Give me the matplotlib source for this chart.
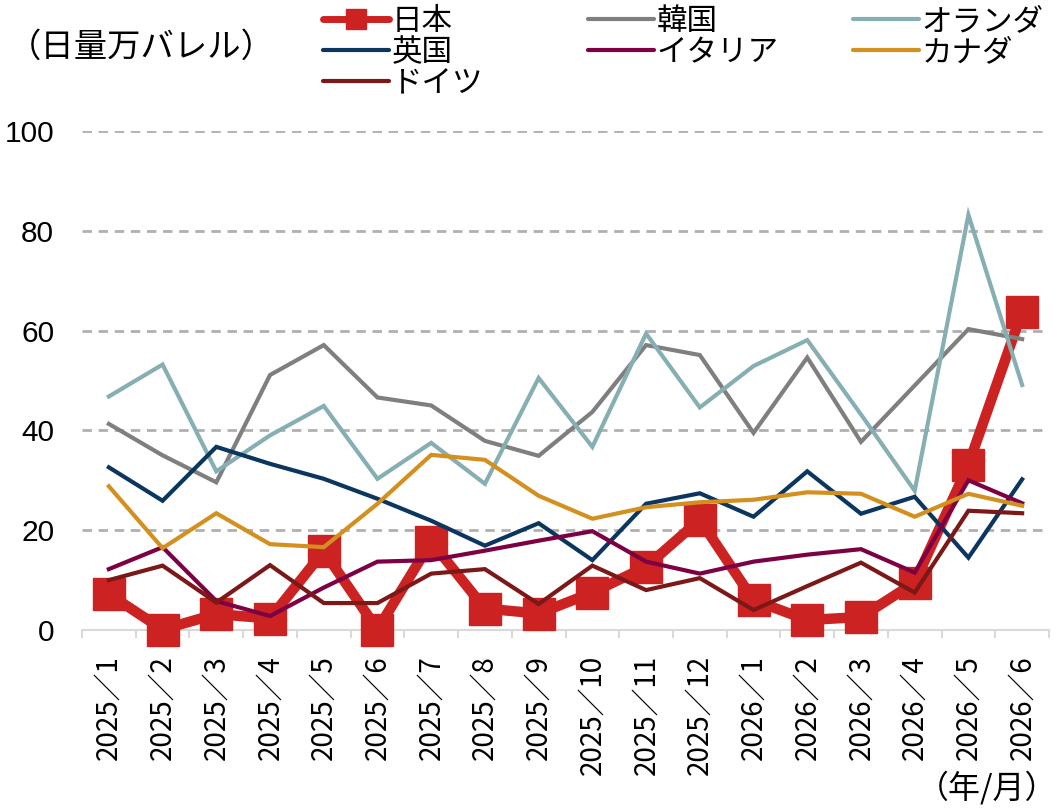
import matplotlib
matplotlib.use("Agg")
import matplotlib.pyplot as plt
from matplotlib.lines import Line2D
import numpy as np

months = ["2025／1", "2025／2", "2025／3", "2025／4", "2025／5", "2025／6",
          "2025／7", "2025／8", "2025／9", "2025／10", "2025／11", "2025／12",
          "2026／1", "2026／2", "2026／3", "2026／4", "2026／5", "2026／6"]

japan = [7.2, 0.1, 3.2, 2.3, 15.8, 0.1, 17.7, 4.3, 3.3, 7.5, 12.7, 22.1, 6.0, 2.0, 2.6, 9.5, 33.1, 63.8]
korea = [41.3, 35.0, 29.6, 51.1, 57.1, 46.6, 45.0, 37.9, 34.9, 43.7, 57.1, 55.1, 39.5, 54.6, 37.7, 49.0, 60.3, 58.3]
netherlands = [46.8, 53.2, 31.8, 39.0, 44.9, 30.3, 37.5, 29.3, 50.5, 36.7, 59.4, 44.6, 52.9, 58.1, 43.2, 27.9, 83.2, 49.1]
uk = [32.6, 25.9, 36.7, 33.3, 30.3, 26.3, 21.9, 16.9, 21.4, 14.0, 25.3, 27.4, 22.7, 31.8, 23.3, 26.7, 14.5, 30.2]
italy = [12.2, 16.6, 5.8, 2.8, 8.5, 13.7, 14.0, 15.9, 17.9, 19.8, 13.7, 11.3, 13.7, 15.1, 16.2, 11.5, 30.0, 25.4]
canada = [28.8, 16.4, 23.4, 17.2, 16.6, 25.3, 35.1, 34.1, 26.9, 22.3, 24.6, 25.6, 26.1, 27.6, 27.3, 22.7, 27.3, 24.9]
germany = [10.0, 12.9, 5.5, 13.0, 5.4, 5.4, 11.3, 12.2, 5.2, 12.9, 8.0, 10.4, 4.0, 8.8, 13.5, 7.5, 23.9, 23.4]

series_names = ["日本", "韓国", "オランダ", "英国", "イタリア", "カナダ", "ドイツ"]
series_values = [japan, korea, netherlands, uk, italy, canada, germany]
colors = ["#CC2222", "#7F7F7F", "#86AFB4", "#0B365F", "#7E0044", "#D4901E", "#7C1818"]

yticks = [0, 20, 40, 60, 80, 100]

JP = ["Noto Sans CJK JP", "DejaVu Sans"]
NUM = ["Liberation Sans", "Noto Sans CJK JP"]
XNUM = ["Liberation Sans Narrow", "Noto Sans CJK JP"]

fig = plt.figure(figsize=(10.59, 8.09), dpi=100)
ax = fig.add_axes([82 / 1059, 1 - 630 / 809, (1049 - 82) / 1059, (630 - 131) / 809])

x = np.arange(len(months))
for i, (name, vals, c) in enumerate(zip(series_names, series_values, colors)):
    if name == "日本":
        ax.plot(x, vals, color=c, lw=7.5, marker="s", markersize=23,
                solid_joinstyle="miter", clip_on=False, zorder=3 + i)
    else:
        ax.plot(x, vals, color=c, lw=3, solid_joinstyle="miter",
                clip_on=False, zorder=3 + i)

ax.set_xlim(-0.5, len(months) - 0.5)
ax.set_ylim(0, 100)
ax.set_yticks(yticks)
ax.set_yticklabels([str(v) for v in yticks], fontfamily=NUM, fontsize=21.5)
ax.yaxis.grid(True, color="#B0B0B0", lw=2, dashes=(3.4, 2.4))
ax.set_axisbelow(True)
ax.tick_params(axis="y", length=0, pad=20)

ax.set_xticks(x)
ax.set_xticklabels(months, rotation=90, fontfamily=XNUM, fontsize=20)
ax.set_xticks(np.arange(-0.5, len(months)), minor=True)
ax.tick_params(axis="x", which="major", length=0, pad=18)
ax.tick_params(axis="x", which="minor", length=6, width=1.5, color="#D9D9D9")

for s in ["left", "right", "top"]:
    ax.spines[s].set_visible(False)
ax.spines["bottom"].set_color("#D9D9D9")
ax.spines["bottom"].set_linewidth(1.5)
ax.spines["bottom"].set_zorder(2)

# legend in three columns (row-major order as in reference)
handles = {}
for name, c in zip(series_names, colors):
    if name == "日本":
        handles[name] = Line2D([], [], color=c, lw=5, marker="s", markersize=14,
                               solid_capstyle="round")
    else:
        handles[name] = Line2D([], [], color=c, lw=3, solid_capstyle="round")

columns = [(["日本", "英国", "ドイツ"], 323), (["韓国", "イタリア"], 588), (["オランダ", "カナダ"], 853)]
for names, xpx in columns:
    leg = fig.legend([handles[n] for n in names], names, loc="upper left",
                     bbox_to_anchor=(xpx / 1059, 1 - 6 / 809), frameon=False,
                     prop={"family": JP, "size": 22}, handlelength=2.15,
                     handletextpad=0.1, labelspacing=0.0, borderpad=0,
                     borderaxespad=0)

fig.text(8 / 1059, 1 - 47 / 809, "（日量万バレル）", fontfamily=JP, fontsize=24,
         ha="left", va="center")
fig.text(1057 / 1059, 1 - 788 / 809, "（年/月）", fontfamily=JP, fontsize=23,
         ha="right", va="center")

fig.savefig("out.png", dpi=100)
